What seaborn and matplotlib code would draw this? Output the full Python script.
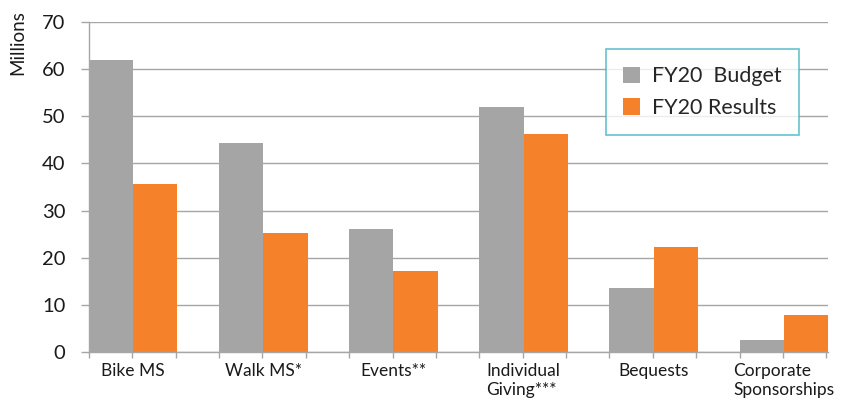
import numpy as np
import pandas as pd
import matplotlib
matplotlib.use("Agg")
import matplotlib.pyplot as plt
import seaborn as sns

categories = ["Bike MS", "Walk MS*", "Events**", "Individual\nGiving***", "Bequests", "Corporate\nSponsorships"]
budget = [62.0, 44.4, 26.0, 51.9, 13.5, 2.5]
results = [35.7, 25.2, 17.1, 46.3, 22.2, 7.8]
series_names = ["FY20  Budget", "FY20 Results"]
colors = ["#a5a5a5", "#f5812a"]

df = pd.DataFrame({
    "category": categories * 2,
    "value": budget + results,
    "series": [series_names[0]] * len(categories) + [series_names[1]] * len(categories),
})

sns.set_theme(style="white")
plt.rcParams["font.family"] = ["Lato", "DejaVu Sans"]

fig = plt.figure(figsize=(8.45, 4.03), dpi=100)
ax = fig.add_axes([89 / 845, 1 - 352 / 403, (828 - 89) / 845, (352 - 22) / 403])

sns.barplot(data=df, x="category", y="value", hue="series", palette=colors,
            width=0.68, gap=0, saturation=1, linewidth=0, edgecolor="none", ax=ax)

ax.set_xlim(-0.34, 5.34)
ax.set_ylim(0, 70)
ax.set_yticks(range(0, 71, 10))
ax.yaxis.grid(True, color="#a6a6a6", linewidth=1)
ax.set_axisbelow(True)

for side in ["top", "right"]:
    ax.spines[side].set_visible(False)
for side in ["left", "bottom"]:
    ax.spines[side].set_color("#a6a6a6")
    ax.spines[side].set_linewidth(1)

ax.tick_params(axis="y", length=6, width=1, color="#a6a6a6", direction="out", labelsize=14.5, pad=11,
               left=True, labelcolor="#1a1a1a")
ax.tick_params(axis="x", length=0, labelsize=12.5, pad=8, labelcolor="#1a1a1a")
for lbl in ax.get_xticklabels():
    lbl.set_multialignment("left")
    lbl.set_verticalalignment("top")

# small tick marks at the bar edges along the bottom
ax.set_xticks(np.arange(-0.34, 5.35, 1 / 3), minor=True)
ax.tick_params(axis="x", which="minor", length=4, width=1, color="#a6a6a6", bottom=True)

ax.set_xlabel("")
ax.set_ylabel("Millions", fontsize=13.5, color="#1a1a1a", loc="top")
ax.yaxis.set_label_coords(-0.085, 1.035)

handles, labels = ax.get_legend_handles_labels()
leg = ax.legend(handles, series_names, loc="upper left",
                bbox_to_anchor=(606 / 845, 1 - 49 / 403), bbox_transform=fig.transFigure,
                fontsize=15.5, frameon=True, fancybox=False, handlelength=0.8, handleheight=0.8,
                handletextpad=0.55, labelspacing=0.55, borderpad=0.8, borderaxespad=0)
leg.get_frame().set_edgecolor("#3db5c2")
leg.get_frame().set_linewidth(1.2)
leg.get_frame().set_facecolor("white")

fig.savefig("out.png", dpi=100)
